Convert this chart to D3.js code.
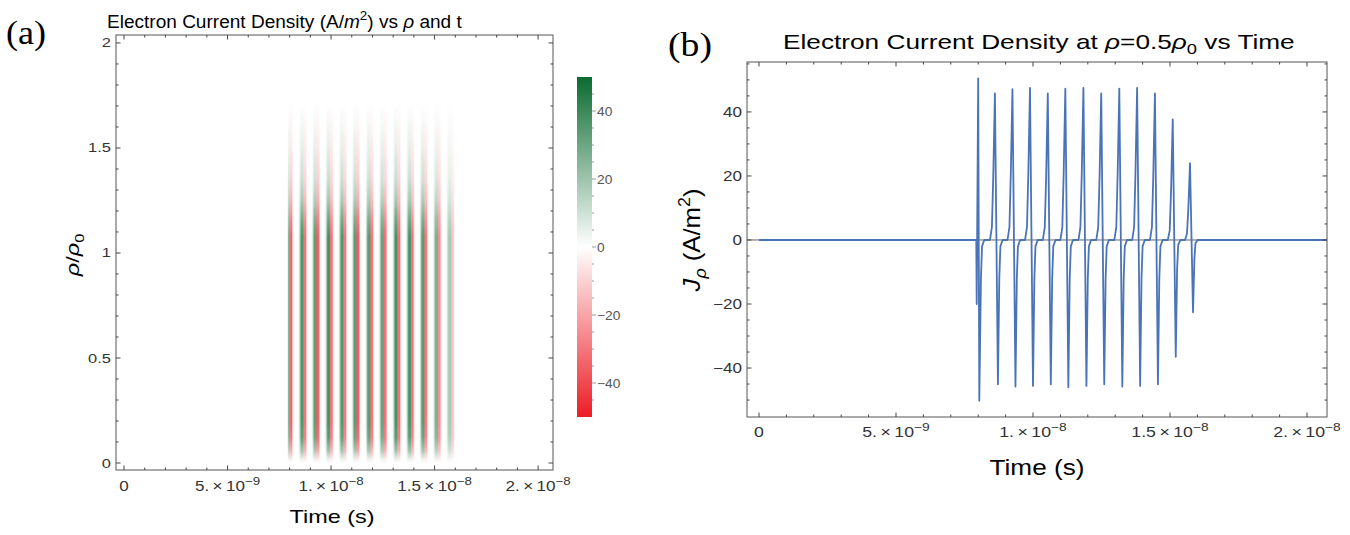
<!DOCTYPE html>
<html>
<head>
<meta charset="utf-8">
<script src="https://cdn.jsdelivr.net/npm/d3@7"></script>
<style>
  body { margin: 0; background: #fff; }
  svg { display: block; }
  text { font-family: "Liberation Sans", Arial, sans-serif; }
</style>
</head>
<body>
<div id="chart"></div>
<script>
// ---- data (time in ns, current density in A/m^2) ----
var waveT = [0, 7.93, 7.945, 8.00, 8.04, 8.10, 8.14, 8.22,
  8.43, 8.50, 8.55, 8.61, 8.72, 8.77, 8.81, 8.89,
  9.07, 9.14, 9.19, 9.25, 9.36, 9.41, 9.45, 9.53,
  9.71, 9.78, 9.83, 9.89, 10.00, 10.05, 10.09, 10.17,
  10.36, 10.43, 10.48, 10.54, 10.65, 10.70, 10.74, 10.82,
  11.00, 11.07, 11.12, 11.18, 11.29, 11.34, 11.38, 11.46,
  11.66, 11.73, 11.78, 11.84, 11.95, 12.00, 12.04, 12.12,
  12.31, 12.38, 12.43, 12.49, 12.60, 12.65, 12.69, 12.77,
  12.97, 13.04, 13.09, 13.15, 13.26, 13.31, 13.35, 13.43,
  13.62, 13.69, 13.74, 13.80, 13.91, 13.96, 14.00, 14.08,
  14.27, 14.34, 14.39, 14.45, 14.56, 14.61, 14.65, 14.73,
  14.92, 14.99, 15.04, 15.10, 15.21, 15.26, 15.30, 15.38,
  15.55, 15.62, 15.67, 15.73, 15.84, 15.89, 15.93, 16.01,
  20.73];
var waveJ = [0, 0, -20, 50.5, -50.2, -12, -2, 0,
  0, 4, 20, 45.8, -45.1, -12, -2, 0,
  0, 4, 21, 47.1, -45.8, -12, -2, 0,
  0, 4, 21, 47.5, -45.6, -12, -2, 0,
  0, 4, 20, 45.8, -45.1, -12, -2, 0,
  0, 4, 21, 47.3, -46.0, -12, -2, 0,
  0, 4, 21, 47.5, -45.6, -12, -2, 0,
  0, 4, 20, 45.8, -45.1, -12, -2, 0,
  0, 4, 21, 47.3, -45.8, -12, -2, 0,
  0, 4, 21, 47.5, -45.6, -12, -2, 0,
  0, 4, 20, 45.8, -45.1, -12, -2, 0,
  0, 3, 16, 37.7, -36.5, -9, -1.5, 0,
  0, 2, 10, 24.0, -22.6, -6, -1, 0,
  0];

// radial profile of the stripes in the density plot (relative strength vs rho/rho0)
var rhoLevels   = [0, 0.02, 0.06, 0.12, 0.2, 1.08, 1.16, 1.25, 1.35, 1.5, 1.62, 1.72];
var rhoEnvelope = [0, 0.15, 0.55, 0.9, 1, 1, 0.8, 0.5, 0.3, 0.15, 0.06, 0];

// tick labels
var timeTicks = [0, 5, 10, 15, 20];
var timeMant  = ["0", "5.", "1.", "1.5", "2."];
var timeExp   = ["", "\u22129", "\u22128", "\u22128", "\u22128"];
var rhoTicks  = [0, 0.5, 1, 1.5, 2];
var rhoLabels = ["0", "0.5", "1", "1.5", "2"];
var jTicks    = [-40, -20, 0, 20, 40];
var cbarTicks = [-40, -20, 0, 20, 40];

var SX = 1.22; // the source figure is stretched horizontally

var svg = d3.select("#chart").append("svg")
  .attr("width", 1350)
  .attr("height", 535);
var defs = svg.append("defs");

// text helper: parts = [[string, style]], style may contain i / sup / sub
function addText(parent, x, y, parts, o) {
  var t = parent.append("text")
    .attr("font-size", o.size)
    .attr("text-anchor", o.anchor || "start")
    .attr("fill", o.fill || "#000");
  if (o.family) t.style("font-family", o.family);
  var shift = 0;
  var small = o.small || 0.7;
  parts.forEach(function(p) {
    var st = p[1] || "";
    var s = t.append("tspan").text(p[0]);
    var want = 0;
    if (st.indexOf("sup") >= 0) { want = -0.42 * o.size; s.attr("font-size", o.size * small); }
    if (st.indexOf("sub") >= 0) { want = 0.25 * o.size; s.attr("font-size", o.size * small); }
    if (st.indexOf("i") == 0) s.attr("font-style", "italic");
    if (want != shift) { s.attr("dy", want - shift); shift = want; }
  });
  var sx = o.sx || 1;
  if (o.len) {
    var bb = t.node().getBBox();
    sx = o.len / bb.width;
  }
  var tr = "translate(" + x + "," + y + ")";
  if (o.rotate) tr += " rotate(" + o.rotate + ")";
  tr += " scale(" + sx + ",1)";
  t.attr("transform", tr);
  return t;
}

// Mathematica style frame with inward ticks on all sides
function frame(g, x, y, xMajor, xMinor, yMajor, yMinor) {
  var x0 = x.range()[0], x1 = x.range()[1];
  var y0 = y.range()[0], y1 = y.range()[1];
  g.append("rect")
    .attr("x", x0).attr("y", y1)
    .attr("width", x1 - x0).attr("height", y0 - y1)
    .attr("fill", "none").attr("stroke", "#555").attr("stroke-width", 1);
  function ticksX(vals, len) {
    vals.filter(function(v) { var p = x(v); return p > x0 + 1 && p < x1 - 1; }).forEach(function(v) {
      g.append("line").attr("x1", x(v)).attr("x2", x(v)).attr("y1", y0).attr("y2", y0 - len)
        .attr("stroke", "#444").attr("stroke-width", 1);
      g.append("line").attr("x1", x(v)).attr("x2", x(v)).attr("y1", y1).attr("y2", y1 + len)
        .attr("stroke", "#444").attr("stroke-width", 1);
    });
  }
  function ticksY(vals, len) {
    vals.filter(function(v) { var p = y(v); return p < y0 - 1 && p > y1 + 1; }).forEach(function(v) {
      g.append("line").attr("y1", y(v)).attr("y2", y(v)).attr("x1", x0).attr("x2", x0 + len)
        .attr("stroke", "#444").attr("stroke-width", 1);
      g.append("line").attr("y1", y(v)).attr("y2", y(v)).attr("x1", x1).attr("x2", x1 - len)
        .attr("stroke", "#444").attr("stroke-width", 1);
    });
  }
  ticksX(xMajor, 4.5); ticksX(xMinor, 2.5);
  ticksY(yMajor, 4.5); ticksY(yMinor, 2.5);
}

// linear lookup of the waveform
var bis = d3.bisector(function(d) { return d; }).left;
function waveAt(t) {
  var i = bis(waveT, t);
  if (i <= 0) return waveJ[0];
  if (i >= waveT.length) return waveJ[waveT.length - 1];
  var f = (t - waveT[i - 1]) / (waveT[i] - waveT[i - 1]);
  return waveJ[i - 1] + f * (waveJ[i] - waveJ[i - 1]);
}
// the density plot is coarsely sampled: each cell shows the strongest value near it
function cellValue(t) {
  var best = 0;
  [-0.05, -0.025, 0, 0.025, 0.05].forEach(function(d) {
    var v = waveAt(t + d);
    if (Math.abs(v) > Math.abs(best)) best = v;
  });
  return best;
}

var color = d3.scaleLinear()
  .domain([-50, 0, 50])
  .range(["#ec1c24", "#ffffff", "#0b6b31"]);

var timeMinor = d3.range(0, 21, 1).filter(function(v) { return v % 5 != 0; });

function timeParts(i) {
  if (!timeExp[i]) return [[timeMant[i], ""]];
  return [[timeMant[i] + "\u2009\u00d7\u200910", ""], [timeExp[i], "sup"]];
}

// ================= panel (a) =================
var xa = d3.scaleLinear().domain([-0.387, 20.72]).range([116, 553]);
var ya = d3.scaleLinear().domain([-0.0333, 2.038]).range([470, 35]);
var ga = svg.append("g");

defs.append("clipPath").attr("id", "clipA").append("rect")
  .attr("x", 116).attr("y", 35).attr("width", 437).attr("height", 435);

var envGrad = defs.append("linearGradient").attr("id", "envGrad")
  .attr("gradientUnits", "userSpaceOnUse")
  .attr("x1", 0).attr("x2", 0)
  .attr("y1", ya(rhoLevels[0])).attr("y2", ya(rhoLevels[rhoLevels.length - 1]));
var rSpan = rhoLevels[rhoLevels.length - 1] - rhoLevels[0];
rhoLevels.forEach(function(r, i) {
  envGrad.append("stop")
    .attr("offset", (r - rhoLevels[0]) / rSpan)
    .attr("stop-color", "#fff")
    .attr("stop-opacity", rhoEnvelope[i]);
});
defs.append("mask").attr("id", "envMask")
  .attr("maskUnits", "userSpaceOnUse")
  .attr("x", 116).attr("y", 35).attr("width", 437).attr("height", 435)
  .append("rect")
  .attr("x", 116).attr("y", 35).attr("width", 437).attr("height", 435)
  .attr("fill", "url(#envGrad)");

// density cells: one thin column per half pixel of time
var colStep = 0.5;
var cols = d3.range(xa(0), xa(20.3), colStep);
ga.append("g")
  .attr("clip-path", "url(#clipA)")
  .append("g")
  .attr("mask", "url(#envMask)")
  .selectAll("rect")
  .data(cols)
  .enter().append("rect")
  .attr("x", function(d) { return d; })
  .attr("y", ya(2))
  .attr("width", colStep + 0.05)
  .attr("height", ya(0) - ya(2))
  .attr("fill", function(d) { return color(cellValue(xa.invert(d + colStep / 2))); });

frame(ga, xa, ya, timeTicks, timeMinor, rhoTicks,
  d3.range(0, 2.05, 0.1).map(function(v) { return Math.round(v * 10) / 10; })
    .filter(function(v) { return Math.abs(v * 2 - Math.round(v * 2)) > 1e-6; }));

timeTicks.forEach(function(v, i) {
  addText(ga, xa(v), 491, timeParts(i), { size: 14, small: 0.78, anchor: "middle", fill: "#333", sx: SX });
});
rhoTicks.forEach(function(v, i) {
  addText(ga, 111, ya(v) + 4.5, [[rhoLabels[i], ""]], { size: 13.5, anchor: "end", fill: "#333", sx: SX });
});

addText(ga, 332, 523, [["Time (s)", ""]], { size: 18.5, anchor: "middle", len: 85 });
addText(ga, 79, 255, [["\u03c1", "i"], ["/", ""], ["\u03c1", "i"], ["0", "sub"]],
  { size: 19, anchor: "middle", rotate: -90, len: 44 });
addText(ga, 107, 28, [["Electron Current Density (A/", ""], ["m", "i"], ["2", "sup"], [") vs ", ""],
  ["\u03c1", "i"], [" and t", ""]], { size: 18.5, anchor: "start", len: 355 });
addText(ga, 6, 44, [["(a)", ""]], { size: 33, family: "Liberation Serif", len: 40 });

// colour bar
var cb = d3.scaleLinear().domain([-50, 50]).range([417, 77]);
var cbGrad = defs.append("linearGradient").attr("id", "cbGrad")
  .attr("gradientUnits", "userSpaceOnUse")
  .attr("x1", 0).attr("x2", 0).attr("y1", cb(-50)).attr("y2", cb(50));
color.domain().forEach(function(v) {
  cbGrad.append("stop").attr("offset", (v + 50) / 100).attr("stop-color", color(v));
});
ga.append("rect")
  .attr("x", 577).attr("y", cb(50))
  .attr("width", 15).attr("height", cb(-50) - cb(50))
  .attr("fill", "url(#cbGrad)");
d3.range(-45, 50, 5).forEach(function(v) {
  var major = v % 20 == 0;
  ga.append("line").attr("x1", 592).attr("x2", major ? 596 : 594)
    .attr("y1", cb(v)).attr("y2", cb(v))
    .attr("stroke", "#999").attr("stroke-width", 1);
});
cbarTicks.forEach(function(v) {
  var s = v < 0 ? "\u2212" + Math.abs(v) : String(v);
  addText(ga, 597, cb(v) + 4.5, [[s, ""]], { size: 12.5, fill: "#555", sx: 1.1 });
});

// ================= panel (b) =================
var xb = d3.scaleLinear().domain([-0.438, 20.73]).range([747, 1327]);
var yb = d3.scaleLinear().domain([-55.3, 55.6]).range([417, 62]);
var gb = svg.append("g");

defs.append("clipPath").attr("id", "clipB").append("rect")
  .attr("x", 747).attr("y", 62).attr("width", 580).attr("height", 355);

gb.append("line")
  .attr("x1", 747).attr("x2", 1327)
  .attr("y1", yb(0)).attr("y2", yb(0))
  .attr("stroke", "#666").attr("stroke-width", 1);

var line = d3.line()
  .x(function(d, i) { return xb(waveT[i]); })
  .y(function(d) { return yb(d); });
gb.append("path")
  .datum(waveJ)
  .attr("clip-path", "url(#clipB)")
  .attr("d", line)
  .attr("fill", "none")
  .attr("stroke", "#4a73b8")
  .attr("stroke-width", 1.8)
  .attr("stroke-linejoin", "round");

frame(gb, xb, yb, timeTicks, timeMinor, jTicks,
  d3.range(-55, 56, 5).filter(function(v) { return v % 20 != 0; }));

timeTicks.forEach(function(v, i) {
  addText(gb, xb(v), 437, timeParts(i), { size: 14.5, small: 0.78, anchor: "middle", fill: "#333", sx: SX });
});
jTicks.forEach(function(v) {
  var s = v < 0 ? "\u2212" + Math.abs(v) : String(v);
  addText(gb, 742, yb(v) + 5, [[s, ""]], { size: 14, anchor: "end", fill: "#333", sx: SX });
});

addText(gb, 1037, 475, [["Time (s)", ""]], { size: 22, anchor: "middle", len: 95 });
addText(gb, 700, 240, [["J", "i"], ["\u03c1", "isub"], [" (A/m", ""], ["2", "sup"], [")", ""]],
  { size: 23, anchor: "middle", rotate: -90, len: 104 });
addText(gb, 783, 49, [["Electron Current Density at ", ""], ["\u03c1", "i"], ["=0.5", ""],
  ["\u03c1", "i"], ["0", "sub"], [" vs Time", ""]], { size: 20, anchor: "start", len: 512 });
addText(gb, 668, 56, [["(b)", ""]], { size: 33, family: "Liberation Serif", len: 44 });
</script>
</body>
</html>
